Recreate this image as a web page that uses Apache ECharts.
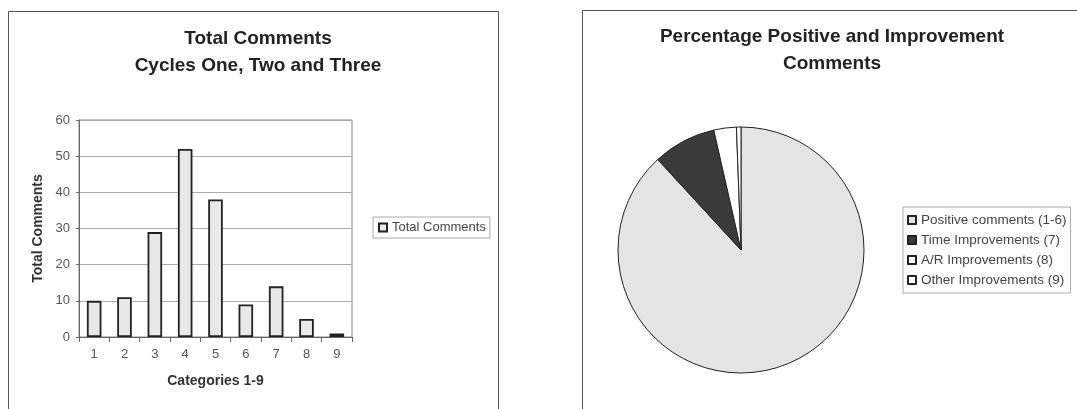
<!DOCTYPE html>
<html>
<head>
<meta charset="utf-8">
<script src="https://cdn.jsdelivr.net/npm/echarts@6/dist/echarts.min.js"></script>
<style>
  html, body { margin: 0; padding: 0; background: #fff; }
  #chart { width: 1077px; height: 409px; }
</style>
</head>
<body>
<div id="chart"></div>
<script>
// bar chart data
const categories = ['1', '2', '3', '4', '5', '6', '7', '8', '9'];
const totalComments = [10, 11, 29, 52, 38, 9, 14, 5, 1];

// pie chart data
const pieNames = ['Positive comments (1-6)', 'Time Improvements (7)', 'A/R Improvements (8)', 'Other Improvements (9)'];
const pieValues = [149, 14, 5, 1];
const pieColors = ['#e4e4e4', '#3a3a3a', '#ffffff', '#ffffff'];

const font = '"Liberation Sans", Arial, sans-serif';
const chart = echarts.init(document.getElementById('chart'));

chart.setOption({
  animation: false,
  textStyle: { fontFamily: font },
  graphic: [
    { type: 'rect', shape: { x: 8.5, y: 11.5, width: 490, height: 420 }, style: { fill: 'none', stroke: '#555', lineWidth: 1 } },
    { type: 'rect', shape: { x: 582.5, y: 10.5, width: 520, height: 420 }, style: { fill: 'none', stroke: '#555', lineWidth: 1 } }
  ],
  title: [
    {
      text: 'Total Comments\nCycles One, Two and Three',
      left: 253, top: 20, textAlign: 'center',
      textStyle: { fontSize: 19, fontWeight: 'bold', color: '#222', lineHeight: 27, fontFamily: font }
    },
    {
      text: 'Percentage Positive and Improvement\nComments',
      left: 827, top: 18, textAlign: 'center',
      textStyle: { fontSize: 19, fontWeight: 'bold', color: '#222', lineHeight: 27, fontFamily: font }
    }
  ],
  legend: [
    {
      data: ['Total Comments'],
      left: 373, top: 217,
      orient: 'vertical',
      itemWidth: 8, itemHeight: 8, itemGap: 4,
      icon: 'rect',
      borderColor: '#aaa', borderWidth: 1, padding: [4, 4, 4, 5],
      textStyle: { fontSize: 13, color: '#444', fontFamily: font }
    },
    {
      data: pieNames,
      left: 903, top: 207,
      orient: 'vertical',
      itemWidth: 8, itemHeight: 8, itemGap: 6,
      icon: 'rect',
      borderColor: '#aaa', borderWidth: 1, padding: [6, 4, 6, 4],
      textStyle: { fontSize: 13.5, color: '#444', fontFamily: font }
    }
  ],
  grid: {
    left: 79, top: 120, width: 273, height: 217,
    show: true, borderColor: '#888', borderWidth: 1
  },
  xAxis: {
    type: 'category',
    data: categories,
    name: 'Categories 1-9',
    nameLocation: 'middle',
    nameGap: 37,
    nameTextStyle: { fontSize: 14, fontWeight: 'bold', color: '#333', fontFamily: font },
    axisLine: { lineStyle: { color: '#666' } },
    axisTick: { show: true, lineStyle: { color: '#666' } },
    axisLabel: { fontSize: 13, color: '#555', margin: 11 }
  },
  yAxis: {
    type: 'value',
    min: 0, max: 60, interval: 10,
    name: 'Total Comments',
    nameLocation: 'middle',
    nameGap: 34,
    nameTextStyle: { fontSize: 14, fontWeight: 'bold', color: '#333', fontFamily: font },
    axisLine: { show: true, lineStyle: { color: '#666' } },
    axisTick: { show: true, length: 3, lineStyle: { color: '#666' } },
    axisLabel: { fontSize: 13, color: '#555', margin: 9 },
    splitLine: { lineStyle: { color: '#aaa' } }
  },
  series: [
    {
      name: 'Total Comments',
      type: 'bar',
      data: totalComments,
      barWidth: '48%',
      itemStyle: { color: '#e8e8e8', borderColor: '#222', borderWidth: 1.8 }
    },
    {
      name: 'Breakdown',
      type: 'pie',
      center: [741, 250],
      radius: 123,
      startAngle: 90,
      clockwise: true,
      label: { show: false },
      labelLine: { show: false },
      data: pieNames.map((n, i) => ({
        name: n,
        value: pieValues[i],
        itemStyle: { color: pieColors[i], borderColor: '#222', borderWidth: 1 }
      }))
    }
  ]
});
</script>
</body>
</html>
